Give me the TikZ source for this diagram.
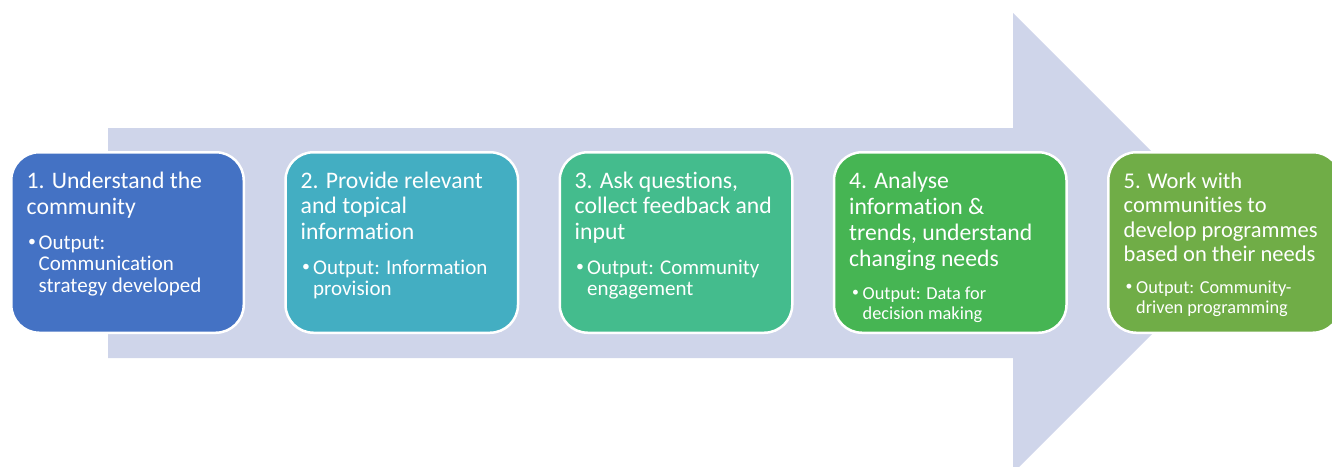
\documentclass[tikz,border=0pt]{standalone}
\usepackage{fontspec}
\setmainfont[Ligatures={NoCommon,NoContextual}]{Carlito}
\definecolor{arr}{HTML}{CFD5EA}
\definecolor{cA}{HTML}{4472C4}
\definecolor{cB}{HTML}{43AEC2}
\definecolor{cC}{HTML}{44BC8D}
\definecolor{cD}{HTML}{46B553}
\definecolor{cE}{HTML}{70AD47}
\newcommand\mytitle[2]{\fontsize{#1}{#2}\selectfont}
\newcommand\mydot{\raisebox{0.12em}{\scalebox{0.75}{\textbullet}}}
\newcommand\mybul[3]{\makebox[#1][l]{\mydot}\parbox[t]{210pt}{#2}}
\begin{document}
\begin{tikzpicture}[x=1pt,y=-1pt,
  stepbox/.style={draw=white, line width=2.5pt, rounded corners=28pt,
    minimum width=232.5pt, minimum height=180.5pt, inner sep=0pt},
  txt/.style={inner sep=0pt, anchor=base west, text=white}]
\useasboundingbox (0,0) rectangle (1332,466);
\clip (0,0) rectangle (1332,466);
\fill[arr] (108,128) -- (1013,128) -- (1013,13) -- (1243,243) -- (1013,473)
  -- (1013,358) -- (108,358) -- cycle;
\node[stepbox, fill=cA] (b1) at (127.5,242.5) {};
\node[stepbox, fill=cB] (b2) at (401.75,242.5) {};
\node[stepbox, fill=cC] (b3) at (676,242.5) {};
\node[stepbox, fill=cD] (b4) at (950.25,242.5) {};
\node[stepbox, fill=cE] (b5) at (1224.5,242.5) {};
% box 1
\node[txt] (t1) at (26.5,188) {\mytitle{23.7}{26}\parbox[t]{215pt}{1. Understand the\\community}};
\node[txt] (u1) at (28,249) {\mytitle{21}{21.5}\mybul{10.5pt}{Output:\\Communication\\strategy developed}{}};
% box 2
\node[txt] (t2) at (300.5,188) {\mytitle{23.7}{25.6}\parbox[t]{215pt}{2. Provide relevant\\and topical\\information}};
\node[txt] (u2) at (302,274) {\mytitle{21}{21.5}\mybul{11pt}{Output: Information\\provision}{}};
% box 3
\node[txt] (t3) at (574.5,188) {\mytitle{23.7}{25.6}\parbox[t]{215pt}{3. Ask questions,\\collect feedback and\\input}};
\node[txt] (u3) at (576,274) {\mytitle{21}{21.5}\mybul{11pt}{Output: Community\\engagement}{}};
% box 4
\node[txt] (t4) at (849,188) {\mytitle{23.7}{26.3}\parbox[t]{215pt}{4. Analyse\\information \&\\trends, understand\\changing needs}};
\node[txt] (u4) at (852,299) {\mytitle{18.3}{20.8}\mybul{10.5pt}{Output: Data for\\decision making}{}};
% box 5
\node[txt] (t5) at (1123.5,188) {\mytitle{22.5}{24.5}\parbox[t]{215pt}{5. Work with\\communities to\\develop programmes\\based on their needs}};
\node[txt] (u5) at (1125.5,293) {\mytitle{18.3}{20.2}\mybul{10.5pt}{Output: Community-\\driven programming}{}};
\end{tikzpicture}
\end{document}
